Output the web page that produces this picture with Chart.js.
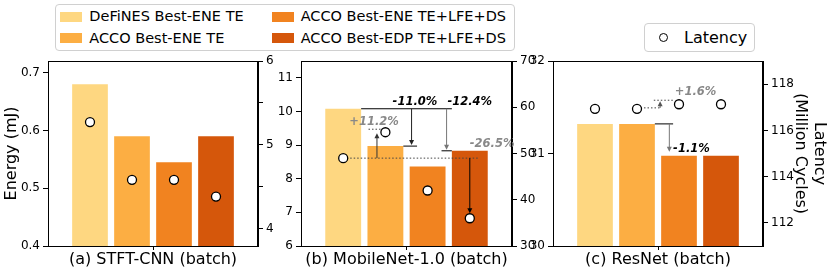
<!DOCTYPE html>
<html>
<head>
<meta charset="utf-8">
<script src="https://cdn.jsdelivr.net/npm/chart.js@4.4.1/dist/chart.umd.min.js"></script>
<style>
  body { margin: 0; width: 830px; height: 272px; position: relative; background: #fff; overflow: hidden; font-family: 'DejaVu Sans', sans-serif; }
  canvas { position: absolute; top: 0; }
  .legend { position: absolute; box-sizing: border-box; border: 1px solid #d0d0d0; border-radius: 4px; background: #fff; }
  .item { position: absolute; font-size: 14.5px; line-height: 18px; white-space: nowrap; color: #000; }
  .swatch { position: absolute; width: 22px; height: 10px; }
  .dot { position: absolute; width: 7px; height: 7px; border: 1.3px solid #000; border-radius: 50%; background: #fff; }
</style>
</head>
<body>
<div id="legendMain" class="legend" style="left:55px;top:4px;width:460px;height:47px"></div>
<div id="legendLat" class="legend" style="left:644px;top:23px;width:111px;height:29px"></div>
<canvas id="chartA" width="280" height="272" style="left:0px"></canvas>
<canvas id="chartB" width="284" height="272" style="left:258px"></canvas>
<canvas id="chartC" width="310" height="272" style="left:520px"></canvas>
<script>
const methods = ['DeFiNES Best-ENE TE', 'ACCO Best-ENE TE', 'ACCO Best-ENE TE+LFE+DS', 'ACCO Best-EDP TE+LFE+DS'];
const barColors = ['#fed781', '#fcae43', '#f18320', '#d5570b'];
const panelTitles = ['(a) STFT-CNN (batch)', '(b) MobileNet-1.0 (batch)', '(c) ResNet (batch)'];

// energy (left axis) and latency (right axis) per method
const energyStft = [0.68, 0.59, 0.545, 0.59];
const latencyStft = [5.27, 4.58, 4.58, 4.38];
const energyMobile = [10.08, 8.97, 8.36, 8.83];
const latencyMobile = [49.0, 54.6, 42.0, 36.0];
const energyResnet = [31.32, 31.32, 30.975, 30.975];
const latencyResnet = [116.93, 116.93, 117.13, 117.13];

// tick values
const energyTicksStft = [0.4, 0.5, 0.6, 0.7];
const latencyTicksStft = [4, 4.5, 5, 5.5, 6];
const energyTicksMobile = [6, 7, 8, 9, 10, 11];
const latencyTicksMobile = [30, 40, 50, 60, 70];
const energyTicksResnet = [30, 31, 32];
const latencyTicksResnet = [112, 114, 116, 118];

Chart.defaults.font.family = "'DejaVu Sans', sans-serif";
Chart.defaults.color = '#000';

// legends
const lm = document.getElementById('legendMain');
methods.forEach((m, i) => {
  const col = Math.floor(i / 2), row = i % 2;
  const sw = document.createElement('div');
  sw.className = 'swatch';
  sw.style.background = barColors[i];
  sw.style.left = (4 + col * 211.7) + 'px';
  sw.style.top = (6.7 + row * 21.6) + 'px';
  lm.appendChild(sw);
  const t = document.createElement('div');
  t.className = 'item';
  t.textContent = m;
  t.style.left = (33.3 + col * 211.4) + 'px';
  t.style.top = (1.8 + row * 22) + 'px';
  lm.appendChild(t);
});
const ll = document.getElementById('legendLat');
ll.innerHTML = '<div class="dot" style="left:14px;top:9px"></div><div class="item" style="left:39px;top:4.5px;font-size:16px">Latency</div>';

// annotation helpers
function seg(ctx, x1, y1, x2, y2, color, dash) {
  ctx.save();
  ctx.strokeStyle = color; ctx.lineWidth = 1; ctx.setLineDash(dash || []);
  ctx.beginPath(); ctx.moveTo(x1, y1); ctx.lineTo(x2, y2); ctx.stroke();
  ctx.restore();
}
function arrow(ctx, x, y1, y2, color) {
  const d = y2 > y1 ? 1 : -1;
  seg(ctx, x, y1, x, y2 - d * 3, color);
  ctx.save();
  ctx.fillStyle = color;
  ctx.beginPath();
  ctx.moveTo(x, y2); ctx.lineTo(x - 2.5, y2 - d * 5); ctx.lineTo(x + 2.5, y2 - d * 5);
  ctx.closePath(); ctx.fill();
  ctx.restore();
}
function note(ctx, text, x, y, color, align) {
  ctx.save();
  ctx.font = "italic bold 11.5px 'DejaVu Sans'";
  ctx.fillStyle = color; ctx.textAlign = align || 'center'; ctx.textBaseline = 'bottom';
  ctx.fillText(text, x, y);
  ctx.restore();
}
const dots = [1.5, 2];
const half = 0.425;

const frame = {
  id: 'frame',
  afterDraw(chart) {
    const a = chart.chartArea, ctx = chart.ctx;
    ctx.save(); ctx.strokeStyle = '#000'; ctx.lineWidth = 1;
    ctx.strokeRect(a.left + 0.5, a.top + 0.5, a.right - a.left - 1, a.bottom - a.top);
    ctx.restore();
  }
};

function makeChart(id, opts) {
  const fit = (w) => (s) => { s.width = w; };
  return new Chart(document.getElementById(id), {
    type: 'bar',
    data: {
      datasets: [
        { type: 'bar', data: opts.energy.map((v, i) => ({ x: i, y: v })), backgroundColor: barColors,
          yAxisID: 'y', barPercentage: 0.85, categoryPercentage: 1, order: 1 },
        { type: 'line', data: opts.latency.map((v, i) => ({ x: i, y: v })), yAxisID: 'y2', showLine: false,
          pointRadius: 4.5, pointBackgroundColor: '#fff', pointBorderColor: '#000', pointBorderWidth: 1.3, order: 0 }
      ]
    },
    options: {
      responsive: false, animation: false,
      layout: { padding: { top: 61, left: 0, right: 0, bottom: 0 } },
      plugins: { legend: { display: false }, tooltip: { enabled: false } },
      scales: {
        x: {
          type: 'linear', min: -1, max: 4, offset: false,
          afterBuildTicks: (s) => { s.ticks = [{ value: 1.5 }]; },
          afterFit: (s) => { s.height = 26; },
          ticks: { callback: () => '', padding: 0 },
          grid: { drawOnChartArea: false, tickLength: 4, color: '#000', offset: false },
          border: { color: '#000' },
          title: { display: true, text: opts.title, font: { size: 16 }, padding: { top: 0, bottom: 3 } }
        },
        y: {
          position: 'left', min: opts.eMin, max: opts.eMax,
          afterBuildTicks: (s) => { s.ticks = opts.eTicks.map(v => ({ value: v })); },
          afterFit: fit(opts.leftW),
          ticks: { font: { size: 12 }, padding: 3 },
          grid: { drawOnChartArea: false, tickLength: 5, color: '#000' },
          border: { color: '#000' },
          title: opts.leftTitle ? { display: true, text: opts.leftTitle, font: { size: 16 }, padding: { top: 2, bottom: 0 } } : { display: false }
        },
        y2: {
          position: 'right', min: opts.lMin, max: opts.lMax,
          afterBuildTicks: (s) => { s.ticks = opts.lTicks.map(v => ({ value: v })); },
          afterFit: fit(opts.rightW),
          ticks: { font: { size: 12 }, padding: 3, callback: (v) => (Number.isInteger(v) ? v : '') },
          grid: { drawOnChartArea: false, tickLength: 5, color: '#000' },
          border: { color: '#000' },
          title: opts.rightTitle ? { display: true, text: opts.rightTitle, font: { size: 16 }, padding: { top: 1, bottom: 0 } } : { display: false }
        }
      }
    },
    plugins: [frame].concat(opts.notes ? [{ id: 'notes' + id, afterDatasetDraw(chart, args) { if (args.index === 0) opts.notes(chart); } }] : [])
  });
}

makeChart('chartA', {
  title: panelTitles[0], energy: energyStft, latency: latencyStft,
  eMin: 0.4, eMax: 0.72, eTicks: energyTicksStft, lMin: 3.79, lMax: 6, lTicks: latencyTicksStft,
  leftW: 48, rightW: 22, leftTitle: 'Energy (mJ)'
});

makeChart('chartB', {
  title: panelTitles[1], energy: energyMobile, latency: latencyMobile,
  eMin: 6, eMax: 11.5, eTicks: energyTicksMobile, lMin: 30, lMax: 70, lTicks: latencyTicksMobile,
  leftW: 43, rightW: 30,
  notes(chart) {
    const ctx = chart.ctx;
    const x = v => chart.scales.x.getPixelForValue(v);
    const e = v => chart.scales.y.getPixelForValue(v);
    const l = v => chart.scales.y2.getPixelForValue(v);
    const top = e(energyMobile[0]);
    seg(ctx, x(half), top, x(3 - half), top, '#000');
    arrow(ctx, x(1.62), top, e(energyMobile[1]) - 1, '#222');
    seg(ctx, x(1 + half), e(energyMobile[1]), x(1.75), e(energyMobile[1]), '#000');
    arrow(ctx, x(2.45), top, e(energyMobile[3]) - 1, '#777');
    seg(ctx, x(2.33), e(energyMobile[3]), x(3 - half), e(energyMobile[3]), '#000');
    note(ctx, '-11.0%', x(1.7), top - 1, '#000');
    note(ctx, '-12.4%', x(3.0), top - 1, '#000');
    const base = l(latencyMobile[0]);
    seg(ctx, x(0), base, x(3.2), base, '#444', dots);
    arrow(ctx, x(0.8), base, l(latencyMobile[1]) + 1, '#333');
    seg(ctx, x(0.6), l(latencyMobile[1]) - 3, x(0.9), l(latencyMobile[1]) - 3, '#444', dots);
    note(ctx, '+11.2%', x(0.73), l(latencyMobile[1]) - 4, '#888');
    arrow(ctx, x(3), base, l(latencyMobile[3]) - 5, '#000');
    note(ctx, '-26.5%', x(3.53), base - 8, '#888');
  }
});

makeChart('chartC', {
  title: panelTitles[2], energy: energyResnet, latency: latencyResnet,
  eMin: 30, eMax: 32, eTicks: energyTicksResnet, lMin: 111, lMax: 119, lTicks: latencyTicksResnet,
  leftW: 33, rightW: 67, rightTitle: ['Latency', '(Million Cycles)'],
  notes(chart) {
    const ctx = chart.ctx;
    const x = v => chart.scales.x.getPixelForValue(v);
    const e = v => chart.scales.y.getPixelForValue(v);
    const l = v => chart.scales.y2.getPixelForValue(v);
    const yb = e(energyResnet[1]);
    seg(ctx, x(1 + half), yb, x(1.86), yb, '#000');
    arrow(ctx, x(1.77), yb, e(energyResnet[2]) - 4, '#777');
    note(ctx, '-1.1%', x(1.86), e(energyResnet[2]) - 1, '#000', 'left');
    const lb = l(latencyResnet[1]) - 1;
    const lt = l(latencyResnet[2]) - 4;
    seg(ctx, x(1), lb, x(1.55), lb, '#444', dots);
    arrow(ctx, x(1.55), lb, lt + 1, '#555');
    seg(ctx, x(1.4), lt, x(1.9), lt, '#444', dots);
    note(ctx, '+1.6%', x(1.9), lt - 2, '#888', 'left');
  }
});
</script>
</body>
</html>
